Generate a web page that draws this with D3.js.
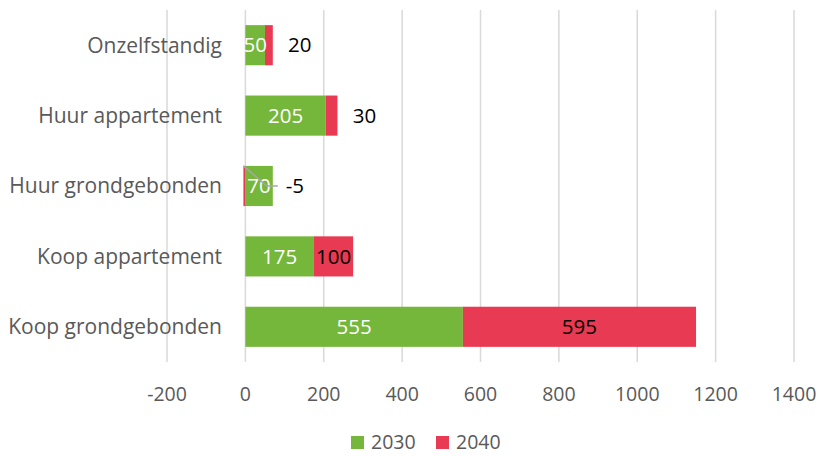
<!DOCTYPE html>
<html>
<head>
<meta charset="utf-8">
<script src="https://cdn.jsdelivr.net/npm/d3@7"></script>
<style>
  body { margin: 0; background: #fff; }
  svg { font-family: "Open Sans", sans-serif; }
</style>
</head>
<body>
<div id="chart"></div>
<script>
const categories = ["Onzelfstandig", "Huur appartement", "Huur grondgebonden", "Koop appartement", "Koop grondgebonden"];
const series = ["2030", "2040"];
const values2030 = [50, 205, 70, 175, 555];
const values2040 = [20, 30, -5, 100, 595];
const xTicks = [-200, 0, 200, 400, 600, 800, 1000, 1200, 1400];
const colors = ["#75b73a", "#e83a52"];

const width = 821, height = 456;
const margin = { top: 10, right: 27, bottom: 94, left: 167 };

const svg = d3.select("#chart").append("svg")
  .attr("width", width).attr("height", height);

const x = d3.scaleLinear().domain([-200, 1400]).range([margin.left, width - margin.right]);
const y = d3.scaleBand().domain(categories)
  .range([margin.top, height - margin.bottom])
  .paddingInner(0.43).paddingOuter(0.215);

// gridlines
svg.append("g").selectAll("line").data(xTicks).join("line")
  .attr("x1", d => x(d)).attr("x2", d => x(d))
  .attr("y1", margin.top).attr("y2", height - margin.bottom)
  .attr("stroke", "#d9d9d9").attr("stroke-width", 1.5);

// x tick labels
svg.append("g").selectAll("text").data(xTicks).join("text")
  .attr("x", d => x(d)).attr("y", height - margin.bottom + 39)
  .attr("text-anchor", "middle").attr("fill", "#595959")
  .attr("font-size", 19.5).text(d => d);

// category labels
svg.append("g").selectAll("text").data(categories).join("text")
  .attr("x", 222).attr("y", d => y(d) + y.bandwidth() / 2)
  .attr("dy", "0.35em").attr("text-anchor", "end")
  .attr("fill", "#595959").attr("font-size", 21).text(d => d);

// stacked segments (positives stack right of 0, negatives left of 0)
const segs = [];
categories.forEach((c, i) => {
  let pos = 0, neg = 0;
  [values2030[i], values2040[i]].forEach((v, s) => {
    let x0, x1;
    if (v >= 0) { x0 = pos; x1 = pos + v; pos = x1; }
    else { x0 = neg + v; x1 = neg; neg = x0; }
    segs.push({ cat: c, s, v, x0, x1 });
  });
});
segs.forEach(d => { d.end = segs.filter(e => e.cat === d.cat && e.v > 0).reduce((a, e) => Math.max(a, e.x1), 0); });

svg.append("g").selectAll("rect").data(segs).join("rect")
  .attr("x", d => x(d.x0)).attr("width", d => x(d.x1) - x(d.x0))
  .attr("y", d => y(d.cat)).attr("height", y.bandwidth())
  .attr("fill", d => colors[d.s]);

// data labels
const labels = svg.append("g").attr("font-size", 20.5);
segs.forEach(d => {
  const cy = y(d.cat) + y.bandwidth() / 2;
  const w = Math.abs(x(d.x1) - x(d.x0));
  const outside = d.s === 1 && w < 30;
  let lx = outside ? x(d.end) + 27 : (x(d.x0) + x(d.x1)) / 2;
  if (outside && d.v < 0) {
    lx = x(d.end) + 22;
    labels.append("path")
      .attr("d", `M${x(d.x0)},${y(d.cat)} L${lx - 28},${cy} L${lx - 17},${cy}`)
      .attr("fill", "none").attr("stroke", "#a6a6a6").attr("stroke-width", 1.5);
  }
  labels.append("text")
    .attr("x", lx).attr("y", cy).attr("dy", "0.35em")
    .attr("text-anchor", "middle")
    .attr("fill", d.s === 0 ? "#fff" : "#000")
    .text(d.v);
});

// legend
const legend = svg.append("g").attr("transform", `translate(0,${height - 7})`);
series.forEach((s, i) => {
  const lx = 351 + i * 85;
  legend.append("rect").attr("x", lx).attr("y", -13).attr("width", 13).attr("height", 13).attr("fill", colors[i]);
  legend.append("text").attr("x", lx + 20).attr("y", 0).attr("fill", "#595959")
    .attr("font-size", 19.5).text(s);
});
</script>
</body>
</html>
